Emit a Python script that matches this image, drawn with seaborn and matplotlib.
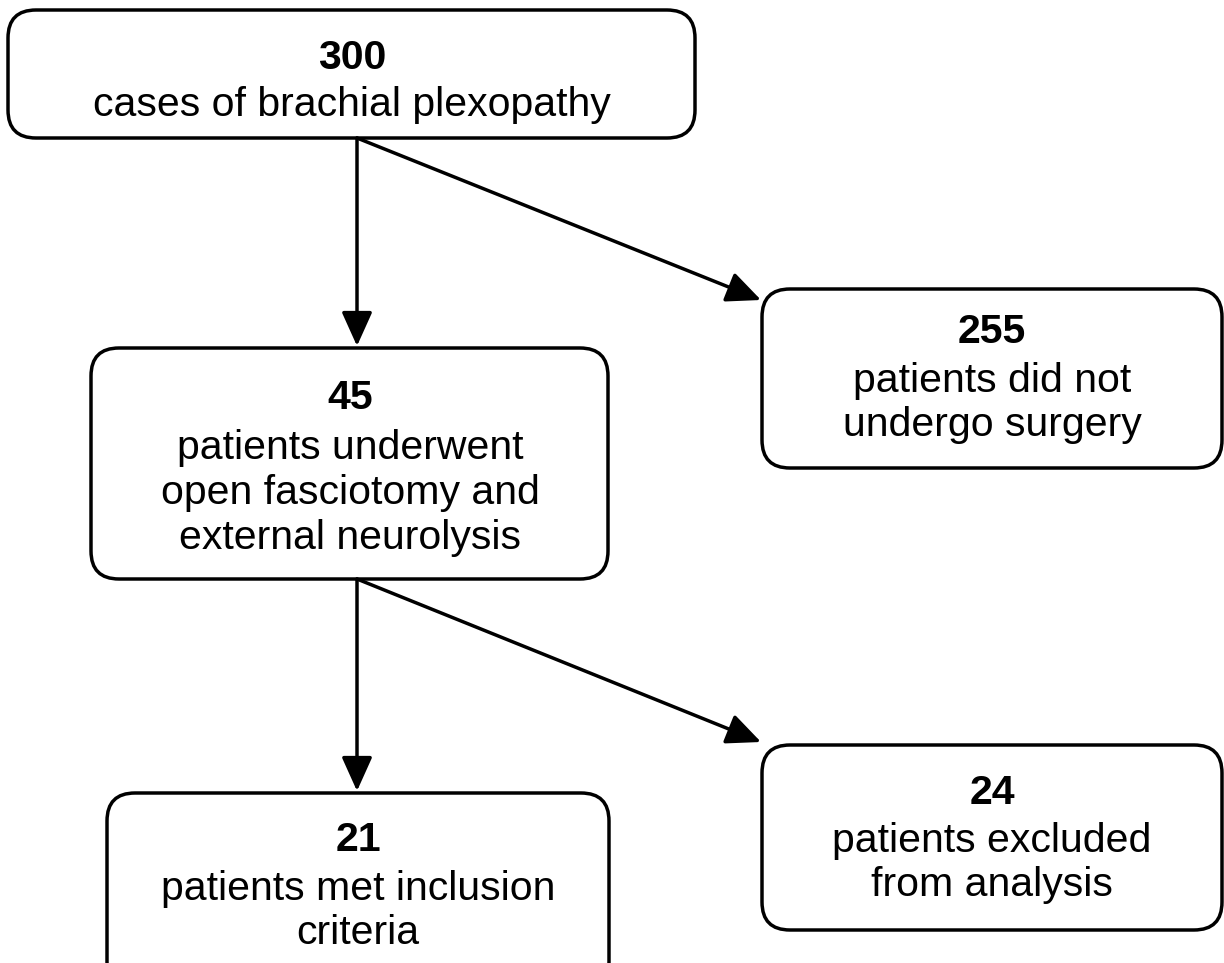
import matplotlib
matplotlib.use("Agg")
import matplotlib.pyplot as plt
from matplotlib.patches import FancyBboxPatch
import seaborn as sns

# Data
counts = ["300", "45", "255", "21", "24"]
descriptions = [
    "cases of brachial plexopathy",
    "patients underwent\nopen fasciotomy and\nexternal neurolysis",
    "patients did not\nundergo surgery",
    "patients met inclusion\ncriteria",
    "patients excluded\nfrom analysis",
]
# edges: (from box index, to box index)
edges = [(0, 1), (0, 2), (1, 3), (1, 4)]

# Layout (pixel coordinates, y down): left, top, right, bottom
box_left = [8, 91, 762, 107, 762]
box_top = [10, 348, 289, 793, 745]
box_right = [695, 608, 1222, 609, 1222]
box_bottom = [138, 579, 468, 990, 930]
count_y = [58, 398, 332, 840, 793]
desc_y = [105, 493, 403, 911, 863]
text_x = [352, 350, 992, 358, 992]
src_pts = {0: (357, 138), 1: (357, 579)}
dst_pts = {1: (357, 346), 2: (761, 300), 3: (357, 791), 4: (761, 742)}

sns.set_theme(style="white")
plt.rcParams['font.family'] = ['Liberation Sans', 'DejaVu Sans']

fig = plt.figure(figsize=(12.24, 9.63), dpi=100)
ax = fig.add_axes([0, 0, 1, 1])
ax.set_xlim(0, 1224)
ax.set_ylim(963, 0)
ax.axis("off")

lw = 2.5
for i in range(len(counts)):
    w = box_right[i] - box_left[i]
    h = box_bottom[i] - box_top[i]
    patch = FancyBboxPatch((box_left[i], box_top[i]), w, h,
                           boxstyle="round,pad=0,rounding_size=28",
                           linewidth=lw, edgecolor="black", facecolor="white",
                           zorder=2)
    ax.add_patch(patch)
    ax.text(text_x[i], count_y[i], counts[i], ha="center", va="center",
            fontsize=29.5, fontweight="bold", color="black", zorder=3)
    ax.text(text_x[i], desc_y[i], descriptions[i], ha="center", va="center",
            fontsize=29.5, color="black", linespacing=1.22, zorder=3)

for s, d in edges:
    ax.annotate("", xy=dst_pts[d], xytext=src_pts[s],
                arrowprops=dict(arrowstyle="-|>,head_length=1.0,head_width=0.45",
                                mutation_scale=21, lw=lw, color="black",
                                shrinkA=0, shrinkB=0),
                zorder=4)

fig.savefig("out.png", dpi=100, facecolor="white")
